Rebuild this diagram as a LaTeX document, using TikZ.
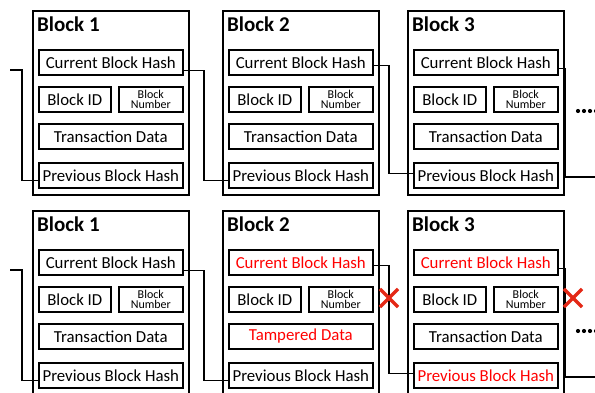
\documentclass[tikz,border=0pt]{standalone}
\usepackage{fontspec}
\setmainfont{Carlito}
\usetikzlibrary{shapes.misc}
\definecolor{xred}{RGB}{228,40,22}
\definecolor{tred}{RGB}{255,0,0}
\tikzset{
  outer/.style={draw, line width=1.8pt, minimum width=156pt, minimum height=184pt, anchor=north west, inner sep=0pt},
  bottomouter/.style={outer, minimum height=196pt},
  ttl/.style={anchor=base west, inner sep=0pt, font=\fontsize{21}{24}\selectfont\bfseries},
  field/.style={draw, line width=1.6pt, minimum height=25pt, anchor=north west, inner sep=0pt, font=\fontsize{16.8}{18}\selectfont},
  wide/.style={field, minimum width=144pt},
  idbox/.style={field, minimum width=72pt},
  numbox/.style={field, minimum width=64pt, align=center, font=\fontsize{12}{10.5}\selectfont},
  conn/.style={draw, line width=1.2pt},
  xmark/.style={cross out, draw=xred, line width=3.2pt, minimum size=15pt, inner sep=0pt},
  dotm/.style={circle, fill=black, inner sep=0pt, minimum size=4.2pt}
}
% #1 name, #2 x, #3 y, #4 title, #5 cbh colour, #6 data text, #7 data colour, #8 pbh colour, #9 outer style
\newcommand\myblock[9]{%
  \begin{scope}[shift={(#2,#3)}]
    \node[#9] (#1) at (0,0) {};
    \node[ttl] (#1t) at (5,22) {#4};
    \node[wide, text=#5] (#1c) at (6,39) {Current Block Hash};
    \node[idbox] (#1i) at (6,76) {Block ID};
    \node[numbox] (#1n) at (86,76) {Block\\Number};
    \node[wide, text=#7] (#1d) at (6,113) {#6};
    \node[wide, text=#8] (#1p) at (6,152) {Previous Block Hash};
  \end{scope}}
\begin{document}
\begin{tikzpicture}[x=1pt,y=-1pt]
\clip (0,0) rectangle (595,393);
\fill[white] (0,0) rectangle (595,393);
% top row
\myblock{a}{32}{10}{Block 1}{black}{Transaction Data}{black}{black}{outer}
\myblock{b}{222}{10}{Block 2}{black}{Transaction Data}{black}{black}{outer}
\myblock{c}{407}{10}{Block 3}{black}{Transaction Data}{black}{black}{outer}
% bottom row
\myblock{d}{32}{210}{Block 1}{black}{Transaction Data}{black}{black}{bottomouter}
\myblock{e}{222}{210}{Block 2}{tred}{Tampered Data}{tred}{black}{bottomouter}
\myblock{f}{407}{210}{Block 3}{tred}{Transaction Data}{black}{tred}{bottomouter}
% connectors top
\coordinate (ina) at (10,70);
\coordinate (outc) at (595,177);
\draw[conn] (ina) -| ([xshift=-16pt,yshift=-5pt]ap.west) -- ([yshift=-5pt]ap.west);
\draw[conn] ([yshift=-8.5pt]ac.east) -| ([xshift=-24pt,yshift=-5pt]bp.west) -- ([yshift=-5pt]bp.west);
\draw[conn] ([yshift=-3.5pt]bc.east) -| ([xshift=-24pt,yshift=2pt]cp.west) -- ([yshift=2pt]cp.west);
\draw[conn] ([yshift=-6.5pt]cc.east) -| ([xshift=7pt]cc.east |- outc) -- (outc);
% connectors bottom
\coordinate (ind) at (10,270);
\coordinate (outf) at (595,377);
\draw[conn] (ind) -| ([xshift=-16pt,yshift=-5pt]dp.west) -- ([yshift=-5pt]dp.west);
\draw[conn] ([yshift=-8.5pt]dc.east) -| ([xshift=-24pt,yshift=-5pt]ep.west) -- ([yshift=-5pt]ep.west);
\draw[conn] ([yshift=-3.5pt]ec.east) -| ([xshift=-24pt,yshift=2pt]fp.west) -- ([yshift=2pt]fp.west);
\draw[conn] ([yshift=-6.5pt]fc.east) -| ([xshift=7pt]fc.east |- outf) -- (outf);
% crosses
\node[xmark] (x1) at (389,298) {};
\node[xmark] (x2) at (573,298) {};
% dots
\foreach \i/\xx in {1/578,2/584,3/590,4/596} {
  \node[dotm] (ut\i) at (\xx,111) {};
  \node[dotm] (ub\i) at (\xx,331) {};
}
\end{tikzpicture}
\end{document}
